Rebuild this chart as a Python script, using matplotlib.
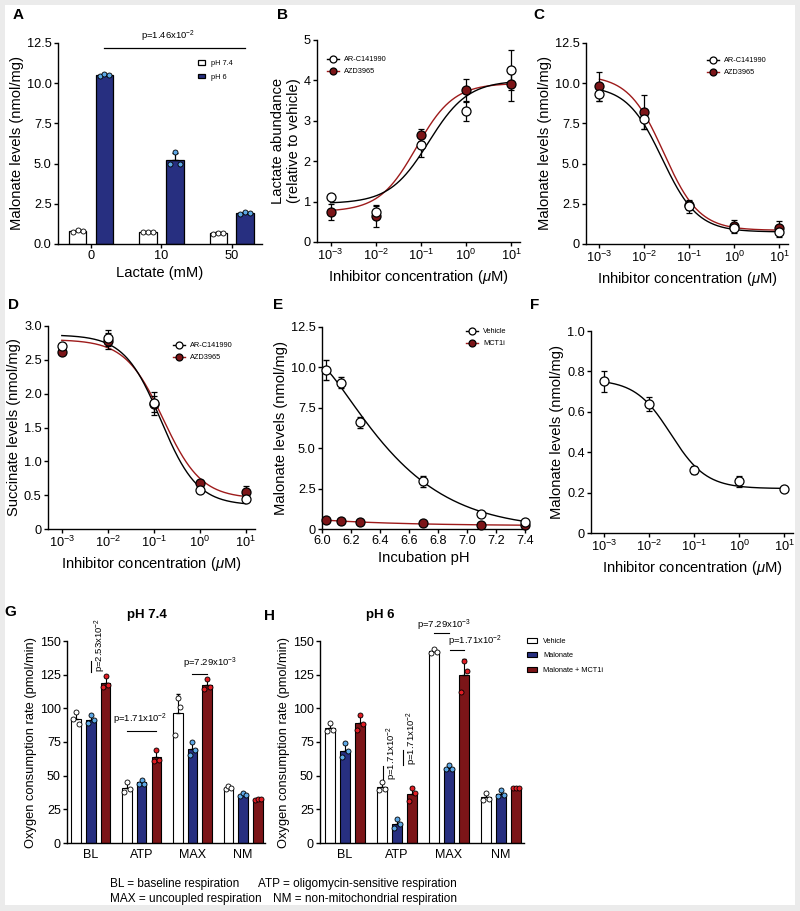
import numpy as np
import matplotlib
matplotlib.use('Agg')
import matplotlib.pyplot as plt
from matplotlib.patches import Rectangle
from matplotlib.lines import Line2D

plt.rcParams['font.family'] = ['Liberation Sans', 'DejaVu Sans']
plt.rcParams['mathtext.fontset'] = 'custom'
plt.rcParams['mathtext.rm'] = 'Liberation Sans'
plt.rcParams['mathtext.it'] = 'Liberation Sans:italic'
plt.rcParams['mathtext.bf'] = 'Liberation Sans:bold'
plt.rcParams['axes.linewidth'] = 1.0

# ---------------- data ----------------
# A: malonate vs lactate, 3 replicates per bar
lactate_mM = ['0', '10', '50']
a_ph74 = [[0.75, 0.85, 0.80], [0.75, 0.75, 0.75], [0.60, 0.70, 0.70]]
a_ph6 = [[10.45, 10.60, 10.50], [5.00, 5.70, 5.00], [1.85, 2.00, 1.95]]

# B, C, D, F: inhibitor dose response (uM), mean +- error
conc_uM = [1e-3, 1e-2, 1e-1, 1e0, 1e1]
conc_labels = ['$10^{-3}$', '$10^{-2}$', '$10^{-1}$', '$10^{0}$', '$10^{1}$']
b_arc = [1.12, 0.75, 2.40, 3.25, 4.25]
b_arc_err = [0.00, 0.15, 0.30, 0.25, 0.50]
b_azd = [0.75, 0.65, 2.65, 3.75, 3.90]
b_azd_err = [0.20, 0.27, 0.15, 0.28, 0.42]
c_arc = [9.35, 7.75, 2.35, 1.00, 0.75]
c_arc_err = [0.45, 0.60, 0.40, 0.30, 0.30]
c_azd = [9.80, 8.20, 2.40, 1.15, 1.00]
c_azd_err = [0.90, 1.05, 0.30, 0.35, 0.40]
d_arc = [2.70, 2.82, 1.86, 0.57, 0.45]
d_arc_err = [0.03, 0.12, 0.17, 0.03, 0.03]
d_azd = [2.62, 2.78, 1.85, 0.68, 0.55]
d_azd_err = [0.03, 0.12, 0.12, 0.05, 0.08]
f_veh = [0.75, 0.64, 0.31, 0.255, 0.22]
f_veh_err = [0.05, 0.035, 0.02, 0.025, 0.01]

# fitted dose-response curves: (plateau low conc, plateau high conc, EC50, hill)
b_arc_fit = (0.95, 4.00, 0.15, 1.0)
b_azd_fit = (0.75, 3.93, 0.08, 1.05)
c_arc_fit = (9.85, 0.75, 0.025, 1.1)
c_azd_fit = (10.5, 0.85, 0.027, 1.1)
d_arc_fit = (2.87, 0.35, 0.142, 1.09)
d_azd_fit = (2.80, 0.45, 0.16, 1.05)
f_veh_fit = (0.76, 0.22, 0.03, 1.1)

# E: incubation pH series
e_ph = [6.03, 6.13, 6.26, 6.70, 7.10, 7.40]
e_veh = [9.85, 9.05, 6.60, 2.95, 0.90, 0.45]
e_veh_err = [0.60, 0.35, 0.35, 0.35, 0.10, 0.05]
e_mct = [0.55, 0.50, 0.45, 0.35, 0.25, 0.25]
e_mct_err = [0.05, 0.04, 0.04, 0.04, 0.03, 0.03]
# decay fits: (floor, amplitude, scale, shape)
e_veh_fit = (0.0, 10.1, 0.59, 1.3)
e_mct_fit = (0.2, 0.36, 0.6, 1.0)

# G / H: oxygen consumption rate, 3 replicates per bar
ocr_params = ['BL', 'ATP', 'MAX', 'NM']
treatments = ['Vehicle', 'Malonate', 'Malonate + MCT1i']
g_vehicle = [[92, 97, 88], [38, 45, 40], [80, 108, 101], [40, 42, 41]]
g_malonate = [[89, 95, 91], [44, 47, 44], [65, 75, 69], [35, 37, 36]]
g_mct1i = [[116, 124, 117], [61, 69, 62], [114, 122, 116], [32, 33, 33]]
h_vehicle = [[83, 89, 84], [39, 45, 40], [141, 144, 142], [32, 37, 33]]
h_malonate = [[64, 74, 68], [11, 18, 14], [55, 58, 55], [35, 39, 36]]
h_mct1i = [[84, 95, 88], [31, 41, 37], [112, 135, 128], [41, 41, 41]]

# ---------------- style ----------------
navy = '#272f80'
maroon = '#7c1518'
lightblue = '#5ea8e6'
brightred = '#e01d24'
fitred = '#9e1b1b'
TICK = 9.2
LAB = 10.6
W, H = 800, 911

fig = plt.figure(figsize=(W / 100, H / 100), dpi=100)
fig.patch.set_facecolor('#ebebeb')
fig.patches.append(Rectangle((5 / W, 1 - 905 / H), 790 / W, 900 / H, transform=fig.transFigure,
                             facecolor='white', edgecolor='none', zorder=-10))


def px_axes(l, t, r, b):
    return fig.add_axes([l / W, 1 - b / H, (r - l) / W, (b - t) / H])


def clean(ax, ts=TICK):
    for s in ['top', 'right']:
        ax.spines[s].set_visible(False)
    ax.tick_params(direction='out', length=3, width=1.0, labelsize=ts, pad=1.5)
    ax.tick_params(which='minor', length=0)


def letter(x, y, s):
    fig.text(x / W, 1 - y / H, s, fontsize=11, fontweight='bold', ha='left', va='center')


def hill(x, y_low, y_high, ec50, h):
    return y_high + (y_low - y_high) / (1 + (x / ec50) ** h)


def decay(x, floor, amp, scale, shape):
    return floor + amp * np.exp(-((x - 6.0) / scale) ** shape)


def pt_legend(ax, handles, labels, x, y, **kw):
    ax.legend(handles, labels, loc='upper left', bbox_to_anchor=(x / W, 1 - y / H),
              bbox_transform=fig.transFigure, frameon=False, fontsize=5.3, borderpad=0,
              borderaxespad=0, **kw)


def dose_panel(ax, series, ylim, yticks, yticklabels, ylabel):
    xs = np.logspace(-3, 1, 300)
    for mean, err, fit, face, lc in series:
        ax.plot(xs, hill(xs, *fit), color=lc, lw=1.0, zorder=2)
        ax.errorbar(conc_uM, mean, yerr=err, fmt='none', ecolor='black', elinewidth=0.9,
                    capsize=2, capthick=0.9, zorder=3)
        ax.plot(conc_uM, mean, 'o', ms=6.5, mfc=face, mec='black', mew=0.9, zorder=4, clip_on=False)
    ax.set_xscale('log')
    ax.set_xlim(10 ** -3.3, 10 ** 1.2)
    ax.set_xticks(conc_uM)
    ax.set_xticklabels(conc_labels)
    ax.set_ylim(*ylim)
    ax.set_yticks(yticks)
    ax.set_yticklabels(yticklabels)
    ax.set_xlabel('Inhibitor concentration ($\\mu$M)', fontsize=LAB, labelpad=3)
    ax.set_ylabel(ylabel, fontsize=LAB, labelpad=2)
    clean(ax)


def inh_handles():
    return [Line2D([], [], color='black', lw=1, marker='o', ms=5, mfc='white', mec='black', mew=0.9),
            Line2D([], [], color=fitred, lw=1, marker='o', ms=5, mfc=maroon, mec='black', mew=0.9)]


# ---------------- A ----------------
axA = px_axes(58, 43, 262, 244)
xa = np.arange(len(lactate_mM))
for pts, off, face, dot, lab in [(a_ph74, -0.19, 'white', 'white', 'pH 7.4'),
                                 (a_ph6, 0.19, navy, lightblue, 'pH 6')]:
    pts = np.array(pts)
    m = pts.mean(1)
    sd = pts.std(1, ddof=1)
    axA.bar(xa + off, m, 0.25, color=face, edgecolor='black', lw=0.9, label=lab, zorder=2)
    axA.errorbar(xa + off, m, yerr=[np.zeros(len(m)), sd], fmt='none', ecolor='black',
                 elinewidth=0.9, capsize=2, zorder=3)
    for j, dx in enumerate([-0.07, 0, 0.07]):
        axA.plot(xa + off + dx, pts[:, j], 'o', ms=3.6, mfc=dot, mec='black', mew=0.6, zorder=4)
axA.set_xlim(-0.47, 2.43)
axA.set_xticks(xa)
axA.set_xticklabels(lactate_mM)
axA.set_ylim(0, 12.5)
axA.set_yticks(np.arange(0, 12.6, 2.5))
axA.set_yticklabels(['0.0', '2.5', '5.0', '7.5', '10.0', '12.5'])
axA.set_xlabel('Lactate (mM)', fontsize=LAB, labelpad=3)
axA.set_ylabel('Malonate levels (nmol/mg)', fontsize=LAB, labelpad=2)
clean(axA)
axA.plot([0.19, 2.19], [12.2, 12.2], color='black', lw=0.9, clip_on=False)
axA.text(1.1, 12.45, 'p=1.46x10$^{-2}$', fontsize=6.8, ha='center', va='bottom')
axA.legend(loc='upper left', bbox_to_anchor=(198 / W, 1 - 60 / H), bbox_transform=fig.transFigure,
           frameon=False, fontsize=5.3, borderpad=0, borderaxespad=0, handlelength=1.0,
           handleheight=0.6, handletextpad=0.8, labelspacing=0.9)

# ---------------- B ----------------
axB = px_axes(317, 40, 520, 242)
dose_panel(axB, [(b_azd, b_azd_err, b_azd_fit, maroon, fitred),
                 (b_arc, b_arc_err, b_arc_fit, 'white', 'black')],
           (0, 5), range(6), [str(v) for v in range(6)], 'Lactate abundance\n(relative to vehicle)')
pt_legend(axB, inh_handles(), ['AR-C141990', 'AZD3965'], 327, 56,
          handlelength=1.6, handletextpad=0.7, labelspacing=0.7)

# ---------------- C ----------------
axC = px_axes(586, 43, 788, 244)
dose_panel(axC, [(c_azd, c_azd_err, c_azd_fit, maroon, fitred),
                 (c_arc, c_arc_err, c_arc_fit, 'white', 'black')],
           (0, 12.5), np.arange(0, 12.6, 2.5), ['0', '2.5', '5.0', '7.5', '10.0', '12.5'],
           'Malonate levels (nmol/mg)')
pt_legend(axC, inh_handles(), ['AR-C141990', 'AZD3965'], 707, 57,
          handlelength=1.6, handletextpad=0.7, labelspacing=0.7)

# ---------------- D ----------------
axD = px_axes(48, 326, 255, 529)
dose_panel(axD, [(d_azd, d_azd_err, d_azd_fit, maroon, fitred),
                 (d_arc, d_arc_err, d_arc_fit, 'white', 'black')],
           (0, 3.0), np.arange(0, 3.01, 0.5), ['0', '0.5', '1.0', '1.5', '2.0', '2.5', '3.0'],
           'Succinate levels (nmol/mg)')
pt_legend(axD, inh_handles(), ['AR-C141990', 'AZD3965'], 173, 342,
          handlelength=1.6, handletextpad=0.7, labelspacing=0.7)

# ---------------- E ----------------
axE = px_axes(322, 327, 525, 529)
xs = np.linspace(6.03, 7.4, 200)
axE.plot(xs, decay(xs, *e_mct_fit), color=fitred, lw=1.0, zorder=2)
axE.plot(xs, decay(xs, *e_veh_fit), color='black', lw=1.0, zorder=2)
for mean, err, face in [(e_mct, e_mct_err, maroon), (e_veh, e_veh_err, 'white')]:
    axE.errorbar(e_ph, mean, yerr=err, fmt='none', ecolor='black', elinewidth=0.9, capsize=2, zorder=3)
    axE.plot(e_ph, mean, 'o', ms=6.5, mfc=face, mec='black', mew=0.9, zorder=4, clip_on=False)
axE.set_xlim(6.0, 7.4)
axE.set_xticks(np.arange(6.0, 7.41, 0.2))
axE.set_xticklabels(['6.0', '6.2', '6.4', '6.6', '6.8', '7.0', '7.2', '7.4'])
axE.set_ylim(0, 12.5)
axE.set_yticks(np.arange(0, 12.6, 2.5))
axE.set_yticklabels(['0', '2.5', '5.0', '7.5', '10.0', '12.5'])
axE.set_xlabel('Incubation pH', fontsize=LAB, labelpad=3)
axE.set_ylabel('Malonate levels (nmol/mg)', fontsize=LAB, labelpad=2)
clean(axE)
pt_legend(axE, [Line2D([], [], color='black', lw=1, marker='o', ms=5, mfc='white', mec='black', mew=0.9),
                Line2D([], [], color=fitred, lw=1, marker='o', ms=5, mfc=maroon, mec='black', mew=0.9)],
          ['Vehicle', 'MCT1i'], 466, 328, handlelength=1.6, handletextpad=0.7, labelspacing=0.7)

# ---------------- F ----------------
axF = px_axes(591, 331, 793, 533)
dose_panel(axF, [(f_veh, f_veh_err, f_veh_fit, 'white', 'black')],
           (0, 1.0), np.arange(0, 1.01, 0.2), ['0', '0.2', '0.4', '0.6', '0.8', '1.0'],
           'Malonate levels (nmol/mg)')

# ---------------- G / H ----------------
def ocr_panel(ax, groups, title, tx):
    xg = np.arange(len(ocr_params))
    for k, (pts, face, dot) in enumerate(groups):
        pts = np.array(pts, float)
        m = pts.mean(1)
        sd = pts.std(1, ddof=1)
        pos = xg + (k - 1) * 0.29
        ax.bar(pos, m, 0.19, color=face, edgecolor='black', lw=0.8, zorder=2, label=treatments[k])
        ax.errorbar(pos, m, yerr=[np.zeros(len(m)), sd], fmt='none', ecolor='black',
                    elinewidth=0.8, capsize=1.5, zorder=3)
        for j, dx in enumerate([-0.055, 0, 0.055]):
            ax.plot(pos + dx, pts[:, j], 'o', ms=3.6, mfc=dot, mec='black', mew=0.6, zorder=4)
    ax.set_xticks(xg)
    ax.set_xticklabels(ocr_params)
    ax.set_ylim(0, 150)
    ax.set_yticks(np.arange(0, 151, 25))
    ax.set_ylabel('Oxygen consumption rate (pmol/min)', fontsize=9.3, labelpad=2)
    clean(ax, ts=9.0)
    ax.tick_params(axis='x', length=0, pad=4)
    fig.text(tx / W, 1 - 615 / H, title, fontsize=9.5, fontweight='bold', ha='center', va='center')


axG = px_axes(67, 641, 265, 843)
ocr_panel(axG, [(g_vehicle, 'white', 'white'), (g_malonate, navy, lightblue),
                (g_mct1i, maroon, brightred)], 'pH 7.4', 147)
axG.set_xlim(-0.47, 3.43)
ps = 6.8
axG.plot([0, 0], [127, 135], color='black', lw=0.8, clip_on=False)
axG.text(0.04, 127, 'p=2.53x10$^{-2}$', rotation=90, fontsize=ps, ha='left', va='bottom', clip_on=False)
axG.plot([0.71, 1.29], [83.5, 83.5], color='black', lw=0.8)
axG.text(0.97, 86, 'p=1.71x10$^{-2}$', fontsize=ps, ha='center', va='bottom')
axG.plot([2.0, 2.29], [125.5, 125.5], color='black', lw=0.8)
axG.text(2.34, 127.5, 'p=7.29x10$^{-3}$', fontsize=ps, ha='center', va='bottom')

axH = px_axes(320, 641, 524, 843)
ocr_panel(axH, [(h_vehicle, 'white', 'white'), (h_malonate, navy, lightblue),
                (h_mct1i, maroon, brightred)], 'pH 6', 380)
axH.set_xlim(-0.48, 3.44)
axH.plot([0.74, 0.74], [47, 57], color='black', lw=0.8)
axH.text(0.77, 47, 'p=1.71x10$^{-2}$', rotation=90, fontsize=ps, ha='left', va='bottom')
axH.plot([1.11, 1.11], [58, 69], color='black', lw=0.8)
axH.text(1.14, 58, 'p=1.71x10$^{-2}$', rotation=90, fontsize=ps, ha='left', va='bottom')
axH.plot([1.72, 2.0], [156, 156], color='black', lw=0.8, clip_on=False)
axH.text(1.9, 156.3, 'p=7.29x10$^{-3}$', fontsize=ps, ha='center', va='bottom', clip_on=False)
axH.plot([2.02, 2.28], [143.5, 143.5], color='black', lw=0.8, clip_on=False)
axH.text(2.5, 143.8, 'p=1.71x10$^{-2}$', fontsize=ps, ha='center', va='bottom', clip_on=False)
axH.legend(loc='upper left', bbox_to_anchor=(527 / W, 1 - 638 / H), bbox_transform=fig.transFigure,
           frameon=False, fontsize=5.3, borderpad=0, borderaxespad=0, handlelength=1.4,
           handleheight=0.65, handletextpad=0.8, labelspacing=1.0)

# ---------------- footnote & letters ----------------
fn = 8.5
fig.text(110 / W, 1 - 884 / H, 'BL = baseline respiration', fontsize=fn, va='center')
fig.text(258 / W, 1 - 884 / H, 'ATP = oligomycin-sensitive respiration', fontsize=fn, va='center')
fig.text(110 / W, 1 - 899 / H, 'MAX = uncoupled respiration', fontsize=fn, va='center')
fig.text(273 / W, 1 - 899 / H, 'NM = non-mitochondrial respiration', fontsize=fn, va='center')

for s, x, y in [('A', 13, 15), ('B', 277, 15), ('C', 533, 15), ('D', 8, 305), ('E', 273, 305),
                ('F', 530, 305), ('G', 4, 612), ('H', 264, 616)]:
    letter(x, y, s)

fig.savefig('out.png', dpi=100, facecolor=fig.get_facecolor())
